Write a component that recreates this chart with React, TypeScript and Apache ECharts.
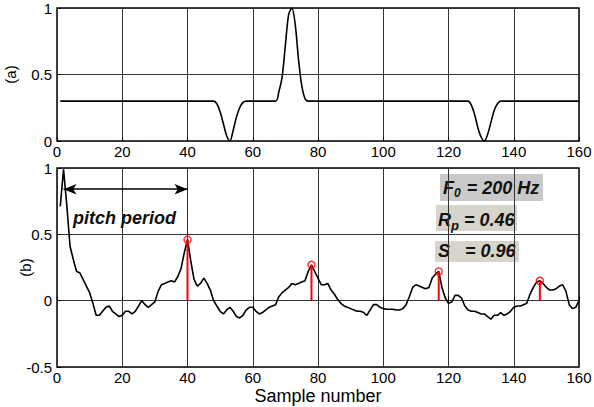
import React, { useEffect, useRef } from "react";
import * as echarts from "echarts";

// Panel (a): excitation-like signal, [sample, value]
const topSignal: [number, number][] = [
  [1, 0.3], [48, 0.3], [49, 0.28], [50, 0.22], [51, 0.13], [52, 0.04], [53, 0.0],
  [54, 0.08], [55, 0.18], [56, 0.25], [57, 0.29], [58, 0.3], [67, 0.3], [68, 0.37],
  [69, 0.48], [70, 0.72], [71, 0.95], [72, 1.0], [73, 0.88], [74, 0.62], [75, 0.42],
  [76, 0.32], [77, 0.3], [126, 0.3], [127, 0.27], [128, 0.2], [129, 0.1], [130, 0.03],
  [131, 0.0], [132, 0.05], [133, 0.14], [134, 0.23], [135, 0.28], [136, 0.3], [160, 0.3],
];

// Panel (b): autocorrelation values for samples 1..160
const acfValues: number[] = [
  0.71, 0.99, 0.72, 0.41, 0.31, 0.22, 0.21, 0.16, 0.11, 0.06,
  -0.02, -0.11, -0.11, -0.08, -0.05, -0.04, -0.08, -0.1, -0.12, -0.11,
  -0.08, -0.08, -0.1, -0.08, -0.04, 0.0, -0.03, -0.05, -0.03, -0.01,
  0.07, 0.12, 0.13, 0.14, 0.15, 0.14, 0.18, 0.24, 0.36, 0.46,
  0.3, 0.16, 0.11, 0.13, 0.17, 0.13, 0.08, 0.0, -0.04, -0.08,
  -0.1, -0.07, -0.05, -0.08, -0.12, -0.13, -0.11, -0.07, -0.05, -0.05,
  -0.08, -0.1, -0.09, -0.07, -0.05, -0.04, -0.03, 0.03, 0.06, 0.08,
  0.1, 0.13, 0.12, 0.13, 0.14, 0.15, 0.22, 0.27, 0.22, 0.17,
  0.12, 0.12, 0.13, 0.08, 0.05, 0.01, -0.02, -0.04, -0.05, -0.06,
  -0.07, -0.08, -0.08, -0.09, -0.11, -0.07, -0.03, -0.03, -0.05, -0.06,
  -0.065, -0.065, -0.065, -0.07, -0.07, -0.06, -0.03, 0.03, 0.1, 0.12,
  0.11, 0.1, 0.09, 0.1, 0.17, 0.2, 0.22, 0.1, 0.02, -0.02,
  -0.01, 0.04, 0.04, 0.02, -0.04, -0.07, -0.08, -0.08, -0.09, -0.1,
  -0.1, -0.12, -0.14, -0.11, -0.11, -0.09, -0.11, -0.1, -0.08, -0.05,
  -0.04, -0.04, -0.03, -0.02, 0.05, 0.1, 0.14, 0.15, 0.13, 0.1,
  0.08, 0.08, 0.09, 0.11, 0.12, 0.07, -0.03, -0.06, -0.05, 0.0,
];
const acfStart = 1;

// Detected peaks [sample, value]
const peaks: [number, number][] = [
  [40, 0.46], [78, 0.27], [117, 0.22], [148, 0.15],
];

// Pitch period arrow [from sample, to sample, level]
const pitchArrow = { from: 2, to: 40, level: 0.84 };

const xTickInterval = 20;
const topYTicks = { min: 0, max: 1, interval: 0.5 };
const bottomYTicks = { min: -0.5, max: 1, interval: 0.5 };

const FONT = "'Liberation Sans', Arial, Helvetica, sans-serif";

function fmt(v: number) {
  return String(Math.round(v * 100) / 100);
}

export default function App() {
  const ref = useRef<HTMLDivElement>(null);
  useEffect(() => {
    if (!ref.current) return;
    const chart = echarts.init(ref.current, undefined, { renderer: "svg" });

    const acfData = acfValues.map((v, i) => [acfStart + i, v]);

    const axisCommon = {
      type: "value" as const,
      axisLine: { show: false },
      axisTick: { show: true, inside: true, length: 4, lineStyle: { color: "#000", width: 1 } },
      splitLine: { show: true, lineStyle: { color: "#333", width: 1, type: "solid" } },
      axisLabel: { color: "#000", fontSize: 15, fontFamily: FONT, formatter: fmt },
    };

    const stemSeries = peaks.map(([x, v]) => ({
      type: "line",
      xAxisIndex: 1,
      yAxisIndex: 1,
      data: [[x, 0], [x, v]],
      symbol: "none",
      lineStyle: { color: "#ff0000", width: 2 },
      z: 5,
    }));

    const bi = (size: number) => `italic bold ${size}px ${FONT}`;

    const gridCommon = {
      left: 57, width: 522, show: true, borderColor: "#000", borderWidth: 1.5,
      backgroundColor: "transparent", containLabel: false, outerBoundsMode: "none",
    };

    const option: any = {
      animation: false,
      backgroundColor: "#fff",
      textStyle: { fontFamily: FONT },
      grid: [
        { ...gridCommon, top: 8, height: 133 },
        { ...gridCommon, top: 168, height: 199 },
      ],
      xAxis: [
        { ...axisCommon, gridIndex: 0, min: 0, max: 160, interval: xTickInterval, axisLabel: { ...axisCommon.axisLabel, margin: 3 } },
        {
          ...axisCommon, gridIndex: 1, min: 0, max: 160, interval: xTickInterval,
          axisLabel: { ...axisCommon.axisLabel, margin: 3 },
          name: "Sample number", nameLocation: "middle", nameGap: 20, nameMoveOverlap: false,
          nameTextStyle: { color: "#000", fontSize: 18, fontFamily: FONT },
        },
      ],
      yAxis: [
        {
          ...axisCommon, gridIndex: 0, ...topYTicks,
          axisLabel: { ...axisCommon.axisLabel, margin: 5 },
          name: "(a)", nameLocation: "middle", nameRotate: 90, nameGap: 39, nameMoveOverlap: false,
          nameTextStyle: { color: "#000", fontSize: 15, fontFamily: FONT },
        },
        {
          ...axisCommon, gridIndex: 1, ...bottomYTicks,
          axisLabel: { ...axisCommon.axisLabel, margin: 5 },
          name: "(b)", nameLocation: "middle", nameRotate: 90, nameGap: 24, nameMoveOverlap: false,
          nameTextStyle: { color: "#000", fontSize: 15, fontFamily: FONT },
        },
      ],
      series: [
        {
          type: "line",
          xAxisIndex: 0,
          yAxisIndex: 0,
          data: topSignal,
          symbol: "none",
          smooth: 0.3,
          lineStyle: { color: "#000", width: 1.6 },
        },
        {
          type: "line",
          xAxisIndex: 1,
          yAxisIndex: 1,
          data: acfData,
          symbol: "none",
          lineStyle: { color: "#000", width: 1.6 },
          z: 3,
          markLine: {
            silent: true,
            symbol: ["arrow", "arrow"],
            symbolSize: [8, 13],
            label: { show: false },
            lineStyle: { color: "#000", width: 1.5, type: "solid" },
            data: [[
              { coord: [pitchArrow.from, pitchArrow.level] },
              { coord: [pitchArrow.to, pitchArrow.level] },
            ]],
          },
        },
        ...stemSeries,
        {
          type: "scatter",
          xAxisIndex: 1,
          yAxisIndex: 1,
          data: peaks,
          symbol: "circle",
          symbolSize: 7,
          itemStyle: { color: "transparent", borderColor: "#ff0000", borderWidth: 1.5 },
          z: 6,
        },
      ],
      graphic: [
        {
          type: "text", left: 73, top: 209, z: 10,
          style: { text: "pitch period", font: bi(18), fill: "#111" },
        },
        {
          type: "group", left: 440, top: 174, z: 10,
          children: [
            { type: "rect", shape: { x: 0, y: 0, width: 103, height: 27 }, style: { fill: "#c9c9c9" } },
            {
              type: "text", x: 3, y: 3,
              style: {
                text: "{m|F}{s|0}{m| = 200 Hz}",
                rich: {
                  m: { font: bi(18), fill: "#111" },
                  s: { font: bi(12), fill: "#111", padding: [10, 1, 0, 0] },
                },
              },
            },
          ],
        },
        {
          type: "group", left: 436, top: 205, z: 10,
          children: [
            { type: "rect", shape: { x: 0, y: 0, width: 81, height: 26 }, style: { fill: "#d7d4cc" } },
            {
              type: "text", x: 2, y: 2,
              style: {
                text: "{m|R}{s|p}{m| = 0.46}",
                rich: {
                  m: { font: bi(18), fill: "#111" },
                  s: { font: bi(13), fill: "#111", padding: [12, 0, 0, 0] },
                },
              },
            },
          ],
        },
        {
          type: "group", left: 435, top: 241, z: 10,
          children: [
            { type: "rect", shape: { x: 0, y: 0, width: 84, height: 21 }, style: { fill: "#d7d4cc" } },
            {
              type: "text", x: 3, y: 1,
              style: { text: "S   = 0.96", font: bi(18), fill: "#111" },
            },
          ],
        },
      ],
    };

    chart.setOption(option);
    return () => chart.dispose();
  }, []);

  return (
    <div
      ref={ref}
      style={{ position: "absolute", left: 0, top: 0, width: 594, height: 407 }}
    />
  );
}
